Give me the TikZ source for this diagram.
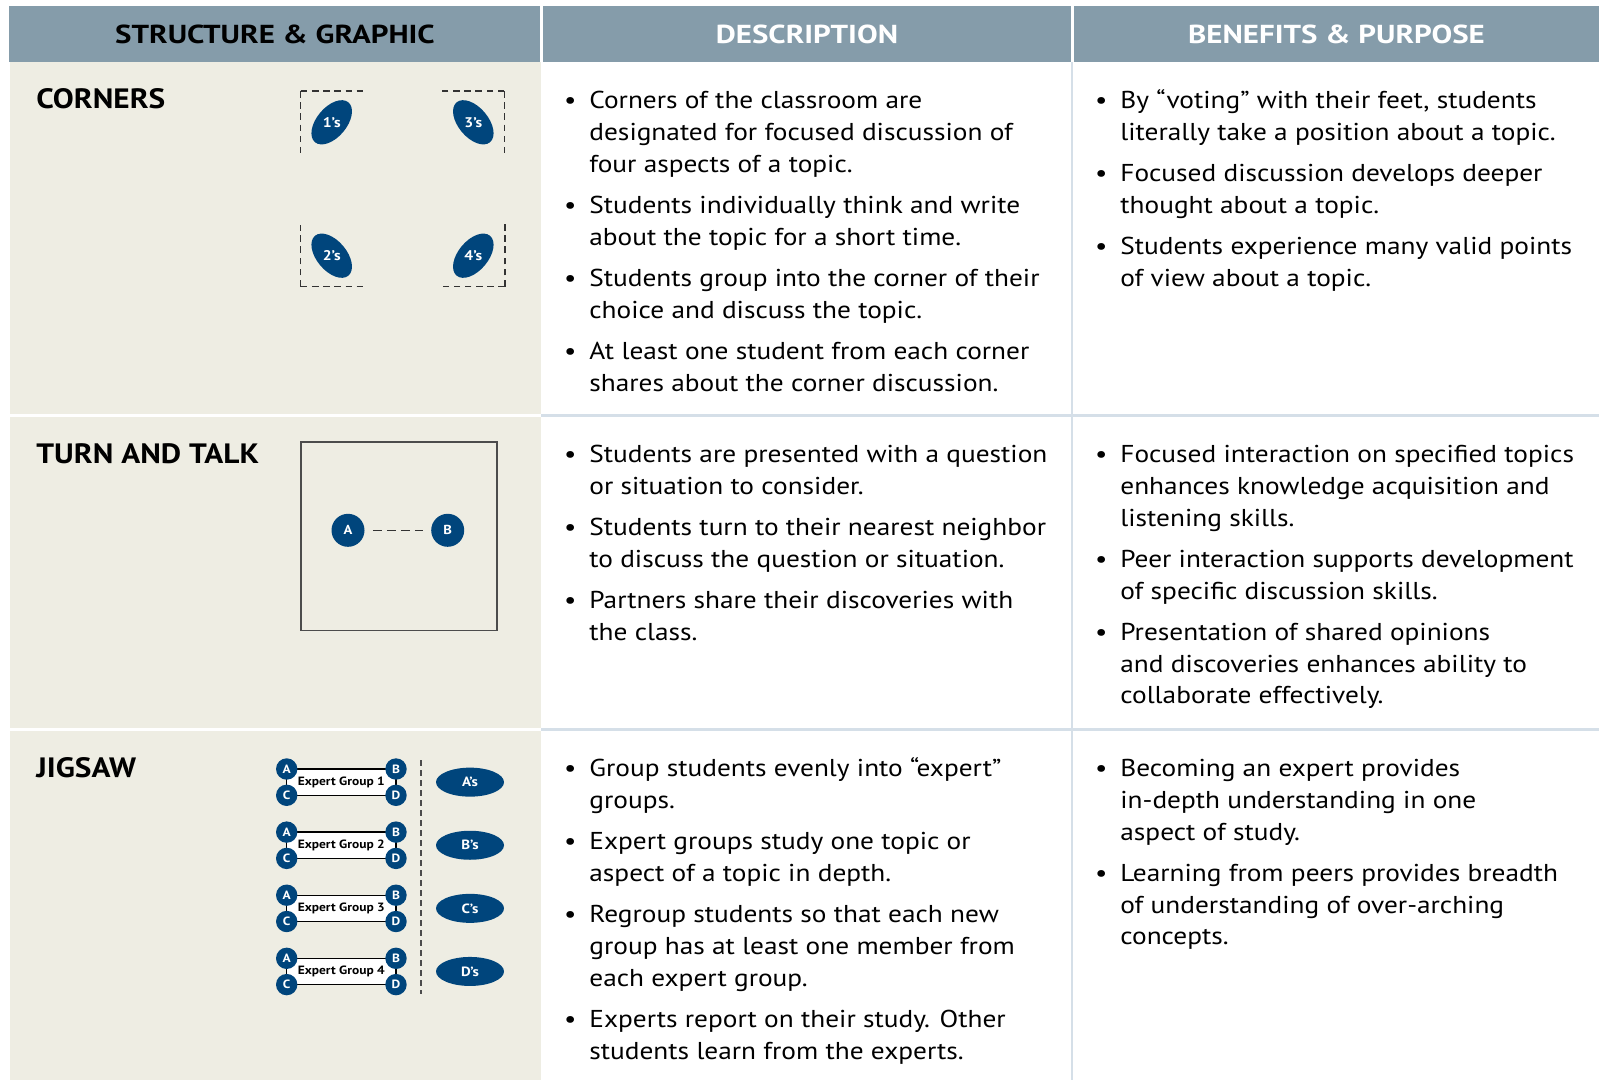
\documentclass[tikz,border=0pt]{standalone}
\usepackage{fontspec}
\setmainfont{PT Sans}[FakeStretch=1.12]
\newfontfamily\headfont{PT Sans}[FakeStretch=1.19]
\usetikzlibrary{shapes.geometric}
\definecolor{hdr}{RGB}{133,156,170}
\definecolor{sand}{RGB}{238,237,227}
\definecolor{navy}{RGB}{0,69,124}
\definecolor{rule}{RGB}{213,223,232}
\newcommand{\bl}{\makebox[0pt][r]{\textbullet\hspace{6.5pt}}\strut}
\newcommand{\gap}{63.1}

\begin{document}
\begin{tikzpicture}[x=0.5pt, y=-0.5pt,
    head/.style={anchor=base, font=\headfont\fontsize{13}{15}\selectfont\bfseries},
    title/.style={anchor=base west, inner sep=0pt, font=\fontsize{14}{16}\selectfont\bfseries},
    item/.style={anchor=north west, inner sep=0pt, align=left, yshift=11.095pt, font=\fontsize{12.2}{15.85}\selectfont},
    dot/.style={circle, fill=navy, text=white, inner sep=0pt, font=\fontsize{6}{7}\selectfont\bfseries},
    oval/.style={ellipse, fill=navy, text=white, inner sep=0pt, minimum width=34pt, minimum height=14.5pt, font=\fontsize{6.7}{8}\selectfont\bfseries},
    dashln/.style={dash pattern=on 3.3pt off 2.3pt, line width=0.65pt, draw=black!80}]
    \useasboundingbox (0,0) rectangle (1599,1080);

    % Header row
    \fill[hdr] (9,6) rectangle (540,62);
    \fill[hdr] (543,6) rectangle (1071,62);
    \fill[hdr] (1074,6) rectangle (1599,62);
    \node[head] (head-1) at (275,44) {STRUCTURE \& GRAPHIC};
    \node[head, text=white] (head-2) at (807,44) {DESCRIPTION};
    \node[head, text=white] (head-3) at (1336.5,44) {BENEFITS \& PURPOSE};

    % Left column and rules
    \fill[sand] (10,62) rectangle (540.5,1080);
    \fill[white] (10,414) rectangle (541,416.5);
    \fill[white] (10,728) rectangle (541,730.5);
    \fill[rule] (541,414) rectangle (1599,416.5);
    \fill[rule] (541,728) rectangle (1599,730.5);
    \fill[rule] (1071,62) rectangle (1073,1080);

    \node[title] (title-1) at (36,109) {CORNERS};
    \node[title] (title-2) at (36,463) {TURN AND TALK};
    \node[title] (title-3) at (36,777) {JIGSAW};

    % Corners
    \draw[dashln] (300.7,91) -- (300.7,153) (300.7,91) -- (362.7,91);
    \draw[dashln] (504.3,91) -- (504.3,152.7) (504.3,91) -- (441.7,91);
    \draw[dashln] (300.7,286.7) -- (300.7,225) (300.7,286.7) -- (363.3,286.7);
    \draw[dashln] (505,286.7) -- (505,224) (505,286.7) -- (443.3,286.7);
    \foreach \n/\cx/\cy/\ang in {1/331.7/122.3/50, 3/473.3/122.3/-50, 2/331.7/255.7/-50, 4/473.3/255.7/50} {
        \fill[navy, rotate around={\ang:(\cx,\cy)}] (\cx,\cy) ellipse [x radius=26, y radius=15];
        \node[text=white, font=\fontsize{7}{8}\selectfont\bfseries] (corner-\n) at (\cx,\cy) {\n's};
    }

    % Turn and talk
    \draw[line width=0.7pt, draw=black!70] (301,442) rectangle (497,630.7);
    \node[dot, minimum size=16.5pt, font=\fontsize{6.5}{7}\selectfont\bfseries] (tt-a) at (348,530.3) {A};
    \node[dot, minimum size=16.5pt, font=\fontsize{6.5}{7}\selectfont\bfseries] (tt-b) at (447.7,530.3) {B};
    \draw[line width=0.65pt, draw=black!80, dash pattern=on 4.5pt off 2.5pt, shorten <=4pt, shorten >=4pt] (tt-a) -- (tt-b);

    % Jigsaw
    \draw[dash pattern=on 3pt off 2pt, line width=0.65pt, draw=black!70] (421,760) -- (421,994);
    \foreach \g/\l in {1/A,2/B,3/C,4/D} {
        \pgfmathsetmacro{\ya}{769+(\g-1)*\gap}
        \pgfmathsetmacro{\yc}{\ya+26.3}
        \pgfmathsetmacro{\ym}{\ya+13.15}
        \coordinate (ga-\g) at (286.7,\ya);
        \coordinate (gd-\g) at (396,\yc);
        \draw[fill=white, line width=0.65pt] (ga-\g) rectangle (gd-\g);
        \node[dot, minimum size=10.7pt] (a-\g) at (286.7,\ya) {A};
        \node[dot, minimum size=10.7pt] (b-\g) at (396,\ya) {B};
        \node[dot, minimum size=10.7pt] (c-\g) at (286.7,\yc) {C};
        \node[dot, minimum size=10.7pt] (d-\g) at (396,\yc) {D};
        \node[font=\fontsize{6}{7}\selectfont\bfseries, inner sep=0pt] (grp-\g) at (341.3,\ym) {Expert Group \g};
        \node[oval] (oval-\g) at (470,\ym) {\l's};
    }

    % Description
    \node[item] (desc-1-1) at (589,108.3) {\bl Corners of the classroom are\\designated for focused discussion of\\four aspects of a topic.};
    \node[item] (desc-1-2) at (589,213.1) {\bl Students individually think and write\\about the topic for a short time.};
    \node[item] (desc-1-3) at (589,286.2) {\bl Students group into the corner of their\\choice and discuss the topic.};
    \node[item] (desc-1-4) at (589,359.3) {\bl At least one student from each corner\\shares about the corner discussion.};

    \node[item] (desc-2-1) at (589,462.2) {\bl Students are presented with a question\\or situation to consider.};
    \node[item] (desc-2-2) at (589,535.3) {\bl Students turn to their nearest neighbor\\to discuss the question or situation.};
    \node[item] (desc-2-3) at (589,608.4) {\bl Partners share their discoveries with\\the class.};

    \node[item] (desc-3-1) at (589,776.3) {\bl Group students evenly into “expert”\\groups.};
    \node[item] (desc-3-2) at (589,849.4) {\bl Expert groups study one topic or\\aspect of a topic in depth.};
    \node[item] (desc-3-3) at (589,922.5) {\bl Regroup students so that each new\\group has at least one member from\\each expert group.};
    \node[item] (desc-3-4) at (589,1027.3) {\bl Experts report on their study. Other\\students learn from the experts.};

    % Benefits
    \node[item] (ben-1-1) at (1120,108.3) {\bl By “voting” with their feet, students\\literally take a position about a topic.};
    \node[item] (ben-1-2) at (1120,181.4) {\bl Focused discussion develops deeper\\thought about a topic.};
    \node[item] (ben-1-3) at (1120,254.5) {\bl Students experience many valid points\\of view about a topic.};

    \node[item] (ben-2-1) at (1120,462.2) {\bl Focused interaction on specified topics\\enhances knowledge acquisition and\\listening skills.};
    \node[item] (ben-2-2) at (1120,567) {\bl Peer interaction supports development\\of specific discussion skills.};
    \node[item] (ben-2-3) at (1120,640.1) {\bl Presentation of shared opinions\\and discoveries enhances ability to\\collaborate effectively.};

    \node[item] (ben-3-1) at (1120,776.3) {\bl Becoming an expert provides\\in-depth understanding in one\\aspect of study.};
    \node[item] (ben-3-2) at (1120,881.1) {\bl Learning from peers provides breadth\\of understanding of over-arching\\concepts.};

\end{tikzpicture}
\end{document}
